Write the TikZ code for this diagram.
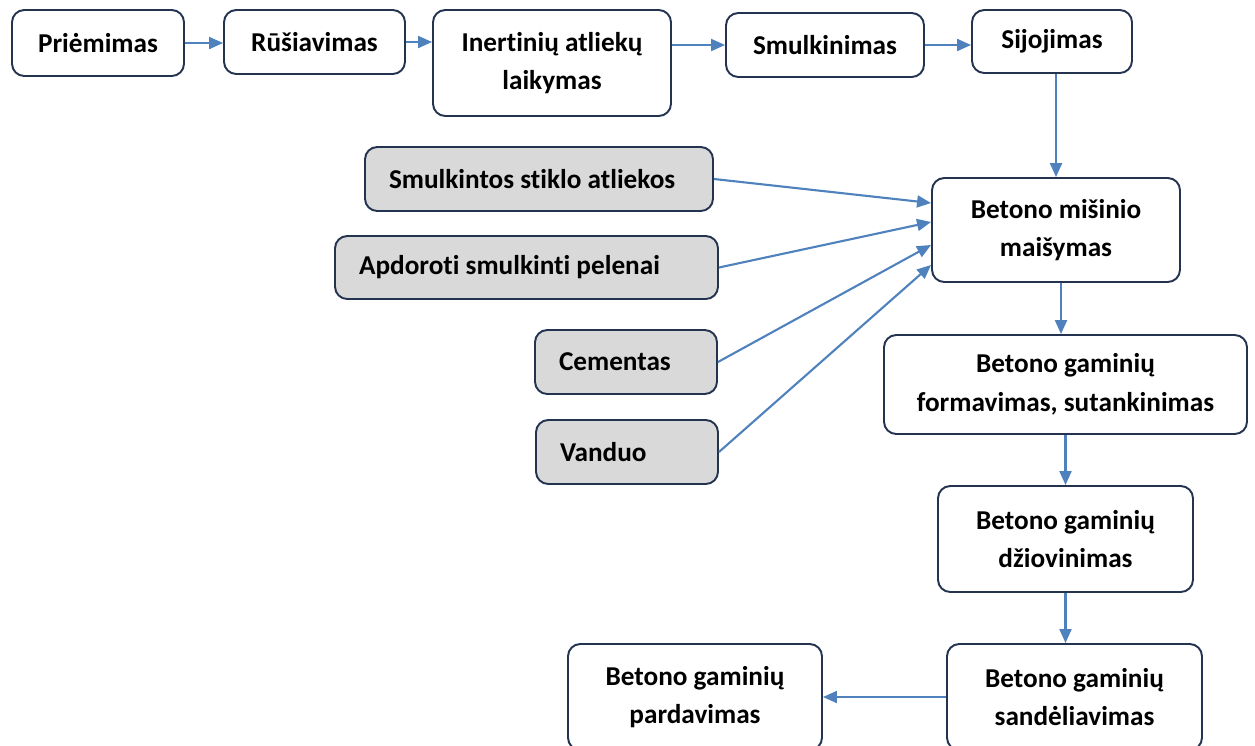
\documentclass[tikz,border=0pt]{standalone}
\usepackage{fontspec}
\setmainfont{Carlito}[Ligatures={NoCommon}]
\definecolor{flowblue}{RGB}{79, 129, 189}
\definecolor{boxnavy}{RGB}{36, 52, 80}
\definecolor{inputgray}{RGB}{217, 217, 217}
\usetikzlibrary{arrows.meta, calc}

\begin{document}
\begin{tikzpicture}[
  procbox/.style={draw=boxnavy, line width=1.1pt, rounded corners=7pt, fill=white, font=\fontsize{15.5}{22}\selectfont\bfseries, align=center, inner sep=0pt},
  inbox/.style={procbox, fill=inputgray, align=flush left, inner xsep=0.48cm},
  flow/.style={draw=flowblue, line width=1.2pt, -{Triangle[length=0.28cm, width=0.24cm]}}
]
  \useasboundingbox (0,0) rectangle (25.1,-14.92);

  % Top row
  \node[procbox, minimum width=3.44cm, minimum height=1.32cm] (priem) at (1.96, -0.86) {Priėmimas};
  \node[procbox, minimum width=3.62cm, minimum height=1.28cm] (rusiav) at (6.29, -0.84) {Rūšiavimas};
  \node[procbox, minimum width=4.76cm, minimum height=2.12cm] (inert) at (11.04, -1.26) {Inertinių atliekų\\laikymas};
  \node[procbox, minimum width=3.96cm, minimum height=1.28cm] (smulk) at (16.50, -0.90) {Smulkinimas};
  \node[procbox, minimum width=3.20cm, minimum height=1.26cm] (sijoj) at (21.04, -0.83) {Sijojimas};

  \draw[flow] (priem.east) -- (priem.east -| rusiav.west);
  \draw[flow] (rusiav.east) -- (rusiav.east -| inert.west);
  \draw[flow] (smulk.west -| inert.east) -- (smulk.west);
  \draw[flow] (smulk.east) -- (smulk.east -| sijoj.west);

  % Inputs
  \node[inbox, text width=6.00cm, minimum height=1.28cm] (stiklo) at (10.78, -3.58) {Smulkintos stiklo atliekos};
  \node[inbox, text width=6.70cm, minimum height=1.26cm] (pelenai) at (10.53, -5.35) {Apdoroti smulkinti pelenai};
  \node[inbox, text width=2.68cm, minimum height=1.28cm] (cement) at (12.52, -7.24) {Cementas};
  \node[inbox, text width=2.68cm, minimum height=1.28cm] (vanduo) at (12.54, -9.04) {Vanduo};

  % Concrete line
  \node[procbox, minimum width=4.96cm, minimum height=2.08cm] (misinio) at (21.12, -4.60) {Betono mišinio\\maišymas};
  \node[procbox, minimum width=7.26cm, minimum height=1.98cm] (formav) at (21.31, -7.69) {Betono gaminių\\formavimas, sutankinimas};
  \node[procbox, minimum width=5.10cm, minimum height=2.12cm] (dziov) at (21.31, -10.78) {Betono gaminių\\džiovinimas};
  \node[procbox, minimum width=5.10cm, minimum height=2.12cm] (sandel) at (21.49, -13.94) {Betono gaminių\\sandėliavimas};
  \node[procbox, minimum width=5.08cm, minimum height=2.12cm] (pardav) at (13.90, -13.94) {Betono gaminių\\pardavimas};

  \draw[flow] (misinio.north |- sijoj.south) -- (misinio.north);
  \draw[flow] (stiklo.east) -- ($(misinio.west)+(0, 0.54)$);
  \draw[flow] (pelenai.east) -- ($(misinio.west)+(0, 0.16)$);
  \draw[flow] (cement.east) -- ($(misinio.west)+(0, -0.30)$);
  \draw[flow] (vanduo.east) -- ($(misinio.west)+(0, -0.70)$);

  \draw[flow] ($(misinio.south)+(0.1, 0)$) -- ($(misinio.south |- formav.north)+(0.1, 0)$);
  \draw[flow] (formav.south) -- (formav.south |- dziov.north);
  \draw[flow] (dziov.south) -- (dziov.south |- sandel.north);
  \draw[flow] (sandel.west) -- (sandel.west -| pardav.east);
\end{tikzpicture}
\end{document}
